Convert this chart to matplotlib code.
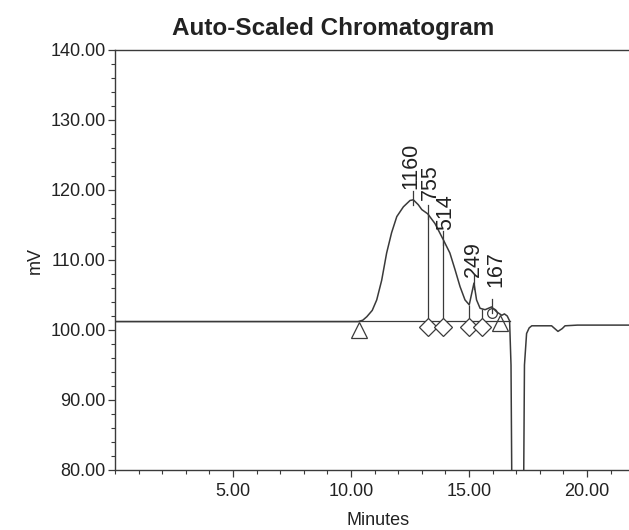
import matplotlib
matplotlib.use('Agg')
import matplotlib.pyplot as plt
from matplotlib.ticker import MultipleLocator, FormatStrFormatter

plt.rcParams['font.family'] = ['Liberation Sans', 'DejaVu Sans']

# trace (minutes, mV)
time = [0.0, 10.3, 10.5, 10.67, 10.9, 11.09, 11.30, 11.51, 11.72, 11.94, 12.22,
        12.50, 12.64, 12.85, 13.0, 13.25, 13.56, 13.91, 14.19, 14.41, 14.62,
        14.83, 15.01, 15.21, 15.32, 15.47, 15.68, 15.96, 16.17, 16.39, 16.5,
        16.62, 16.72, 16.78, 16.85, 17.28, 17.35, 17.44, 17.55, 17.66, 18.5,
        18.6, 18.77, 18.95, 19.07, 19.6, 22.5]
signal = [101.2, 101.2, 101.4, 101.9, 102.8, 104.3, 107.1, 111.0, 113.9, 116.2, 117.6,
          118.5, 118.6, 117.9, 117.2, 116.6, 115.2, 112.9, 111.0, 108.6, 106.2,
          104.3, 103.6, 106.7, 104.3, 103.1, 102.9, 103.3, 102.6, 102.1, 102.3,
          102.0, 101.3, 95.0, 60.0, 60.0, 95.0, 99.5, 100.3, 100.6, 100.6,
          100.3, 99.8, 100.2, 100.6, 100.7, 100.7]

# integrated peaks: retention time, height on trace, area label
peak_times = [12.64, 13.25, 13.91, 15.21, 15.96]
peak_mv = [118.6, 116.6, 112.9, 106.7, 103.3]
peak_labels = ['1160', '755', '514', '249', '167']

# drop lines (time, top of line on trace)
drop_times = [13.25, 13.91, 15.01, 15.55]
drop_tops = [116.6, 112.9, 103.6, 103.0]

baseline_mv = 101.3
start_times = [10.34]
end_times = [16.33]
diamond_times = [13.25, 13.91, 15.01, 15.55]

fig = plt.figure(figsize=(6.29, 5.30), dpi=100)
ax = fig.add_axes([115 / 629, 60 / 530, 526 / 629, 420 / 530])

ink = '#3a3a3a'
ax.plot(time, signal, color=ink, lw=1.1)
ax.plot([0, 16.75], [baseline_mv, baseline_mv], color=ink, lw=0.9)

# drop lines
ax.vlines(drop_times, baseline_mv, drop_tops, color=ink, lw=0.9)

# peak start / end and separators
ax.plot(start_times, [100.0] * len(start_times), '^', ms=12, mfc='white',
        mec=ink, mew=0.9)
ax.plot(end_times, [101.0] * len(end_times), '^', ms=12, mfc='none',
        mec=ink, mew=0.9)
ax.plot(diamond_times, [100.4] * len(diamond_times), 'D', ms=9, mfc='white',
        mec=ink, mew=0.9)
ax.plot([15.98], [102.4], 'o', ms=7, mfc='none', mec=ink, mew=0.9)

# peak ticks and area labels
label_lift = [1.5, 2.0, 1.4, 0.9, 2.8]
label_shift = [-0.12, 0.12, 0.12, -0.02, 0.18]
for t, v, lab, lift, dx in zip(peak_times, peak_mv, peak_labels, label_lift,
                               label_shift):
    ax.plot([t, t], [v - 0.8, v + 1.2], color=ink, lw=0.9)
    ax.text(t + dx, v + lift, lab, rotation=90, ha='center', va='bottom',
            fontsize=15.5, color='#222222')

ax.set_xlim(0, 526 / 23.6)
ax.set_ylim(80, 140)
ax.xaxis.set_major_locator(MultipleLocator(5))
ax.xaxis.set_minor_locator(MultipleLocator(1))
ax.yaxis.set_major_locator(MultipleLocator(10))
ax.yaxis.set_minor_locator(MultipleLocator(2))
ax.xaxis.set_major_formatter(FormatStrFormatter('%.2f'))
ax.yaxis.set_major_formatter(FormatStrFormatter('%.2f'))
ax.set_xticks([5, 10, 15, 20])

ax.tick_params(which='major', length=5, width=0.9, color=ink, labelsize=13,
               labelcolor='#222222')
ax.tick_params(axis='x', which='major', pad=4)
ax.tick_params(axis='y', which='major', pad=1.5)
ax.tick_params(which='minor', length=3, width=0.8, color=ink)

for side in ['left', 'bottom', 'top', 'right']:
    ax.spines[side].set_color(ink)
    ax.spines[side].set_linewidth(1.0)

ax.set_xlabel('Minutes', fontsize=13, color='#222222', labelpad=9)
ax.set_ylabel('mV', fontsize=13, color='#222222', labelpad=5)
fig.text(333 / 629, 1 - 28 / 530, 'Auto-Scaled Chromatogram', ha='center',
         va='center', fontsize=17.5, fontweight='bold', color='#222222')

fig.savefig('out.png', dpi=100)
